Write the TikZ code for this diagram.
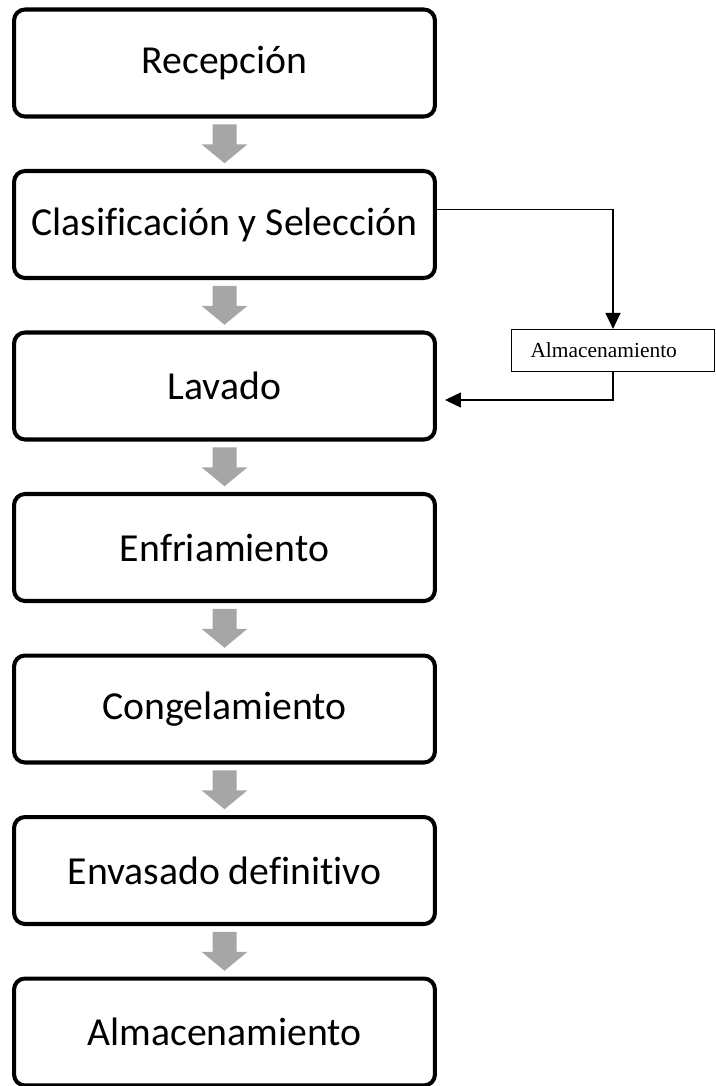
\documentclass[tikz,border=0pt]{standalone}
\usepackage{fontspec}
\setmainfont[Ligatures=CommonOff]{Carlito}
\newfontfamily\tnr{Liberation Serif}
\usetikzlibrary{arrows.meta}
\tikzset{
  paso/.style={draw, line width=2.3pt, rounded corners=0.22cm, minimum width=8.42cm,
    minimum height=2.14cm, font=\fontsize{22.6}{26}\selectfont},
  aux/.style={draw, line width=0.7pt, minimum width=4.06cm, minimum height=0.84cm,
    text width=3.3cm, align=left, inner xsep=0.38cm, font=\tnr\fontsize{12.2}{14}\selectfont},
  flecha/.style={fill=black!35},
  conn/.style={line width=0.75pt, -{Triangle[length=0.32cm,width=0.3cm]}}
}
\begin{document}
\begin{tikzpicture}[x=0.02cm, y=-0.02cm]
\useasboundingbox (0,0) rectangle (716,1086);
\foreach \i/\t in {1/Recepción, 2/Clasificación y Selección, 3/Lavado, 4/Enfriamiento,
  5/Congelamiento, 6/Envasado definitivo, 7/Almacenamiento}
  \node[paso] (b\i) at (224.5, {63+161.5*(\i-1)}) {\t};
\foreach \i/\j in {1/2,2/3,3/4,4/5,5/6,6/7} {
  \path (b\i.south) -- (b\j.north) coordinate[midway] (m\i);
  \fill[flecha] (m\i) ++(-12,-19.5) -- ++(24,0) -- ++(0,20) -- ++(11,0)
    -- ++(-23,19) -- ++(-23,-19) -- ++(11,0) -- cycle;
}
\node[aux] (alm) at (613,350.5) {Almacenamiento};
\draw[conn] ([yshift=0.3cm]b2.east) -| (alm.north);
\draw[conn] (alm.south) |- ([xshift=0.16cm,yshift=-0.28cm]b3.east);
\end{tikzpicture}
\end{document}
